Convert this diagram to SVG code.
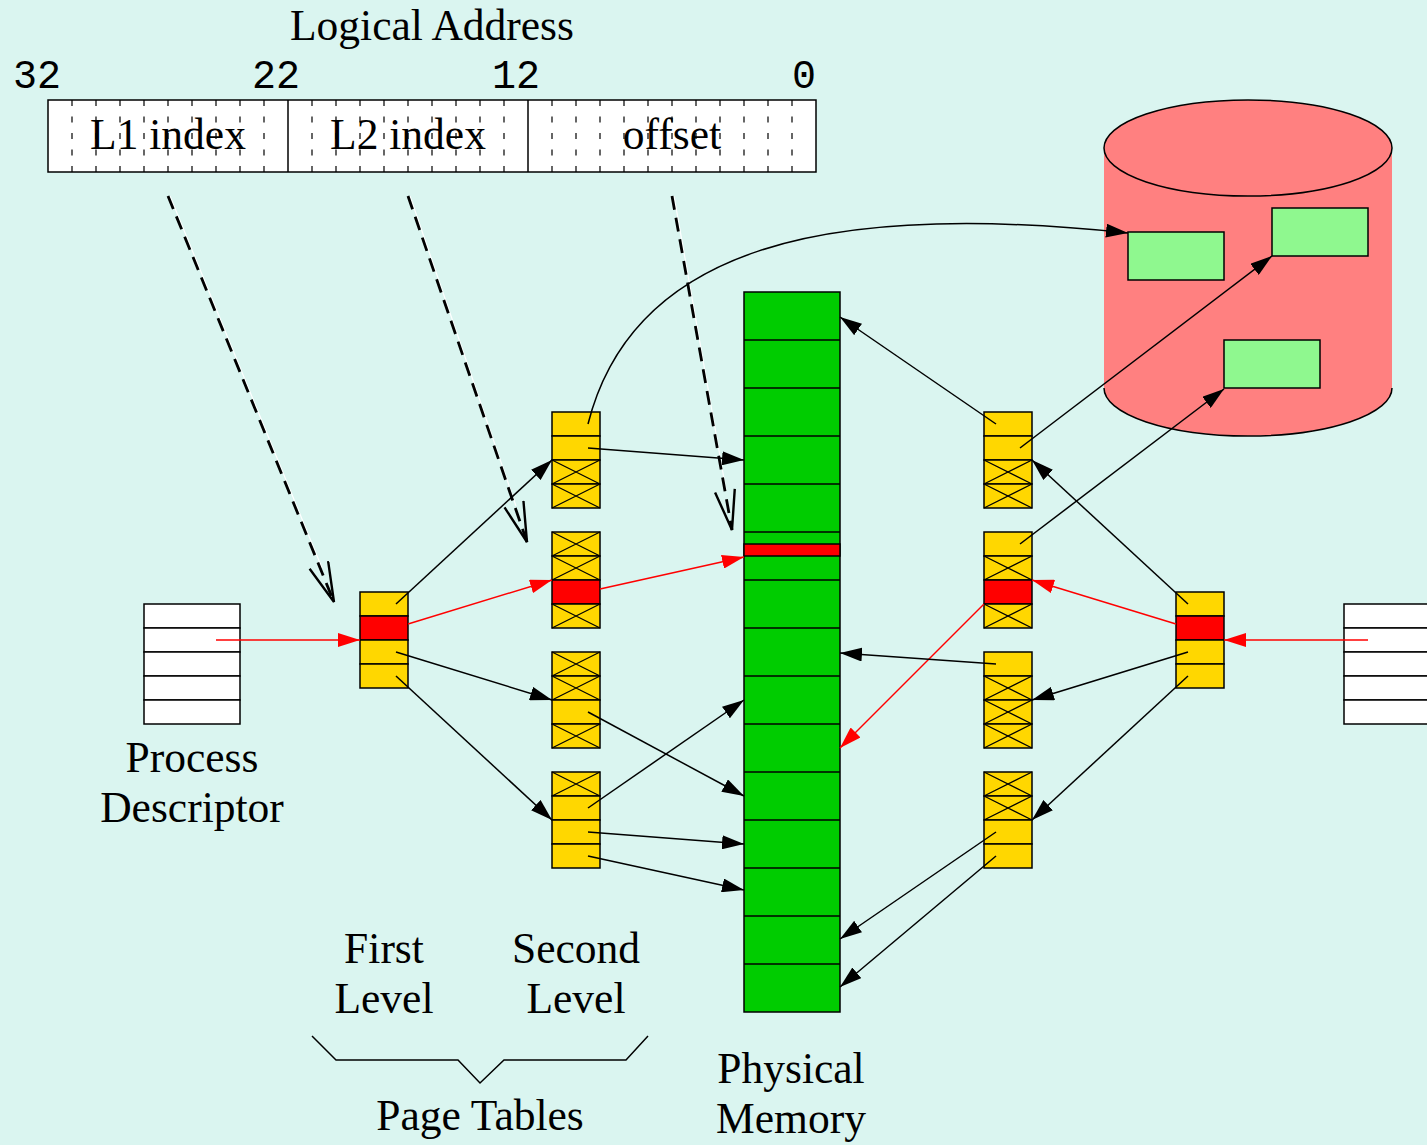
<svg xmlns="http://www.w3.org/2000/svg" width="1427" height="1145" viewBox="0 0 1427 1145">
<defs>
<style>
.t{font-family:"Liberation Serif","Times New Roman",serif;font-size:43.5px;fill:#000;text-anchor:middle}
.m{font-family:"Liberation Mono","Courier New",monospace;font-size:40px;fill:#000;text-anchor:middle}
.y{fill:#ffd700;stroke:#000;stroke-width:1.5}
.r{fill:#ff0000;stroke:#000;stroke-width:1.5}
.w{fill:#fff;stroke:#000;stroke-width:1.5}
.x{stroke:#000;stroke-width:1.2}
.tick{stroke:#000;stroke-width:1.2;stroke-dasharray:6 10.5}
.a{stroke:#000;stroke-width:1.5;fill:none;marker-end:url(#ah)}
.ra{stroke:#ff0000;stroke-width:1.5;fill:none;marker-end:url(#rah)}
.d{stroke:#000;stroke-width:2.8;fill:none;stroke-dasharray:14 8;marker-end:url(#vh)}
.dw{stroke:#fff;stroke-width:1.2;fill:none}
</style>
<marker id="ah" markerUnits="userSpaceOnUse" markerWidth="24" markerHeight="14" refX="22" refY="7" orient="auto"><path d="M0,0 L22,7 L0,14 z" fill="#000"/></marker>
<marker id="rah" markerUnits="userSpaceOnUse" markerWidth="24" markerHeight="14" refX="22" refY="7" orient="auto"><path d="M0,0 L22,7 L0,14 z" fill="#ff0000"/></marker>
<marker id="vh" markerUnits="userSpaceOnUse" markerWidth="44" markerHeight="24" refX="41" refY="11" orient="auto"><path d="M1,1 L41,11 L1,21" fill="none" stroke="#000" stroke-width="2.4" stroke-dasharray="none"/></marker>
</defs>
<rect x="0" y="0" width="1427" height="1145" fill="#daf5f0"/>

<g id="logical-address">
<text class="t" x="432" y="40">Logical Address</text>
<text class="m" x="37" y="88">32</text>
<text class="m" x="276" y="88">22</text>
<text class="m" x="516" y="88">12</text>
<text class="m" x="804" y="88">0</text>
<rect x="48" y="100" width="768" height="72" fill="#fff" stroke="#000" stroke-width="1.5"/>
<g class="tick">
<line x1="72" y1="100" x2="72" y2="172"/><line x1="96" y1="100" x2="96" y2="172"/><line x1="120" y1="100" x2="120" y2="172"/><line x1="144" y1="100" x2="144" y2="172"/><line x1="168" y1="100" x2="168" y2="172"/><line x1="192" y1="100" x2="192" y2="172"/><line x1="216" y1="100" x2="216" y2="172"/><line x1="240" y1="100" x2="240" y2="172"/><line x1="264" y1="100" x2="264" y2="172"/>
<line x1="312" y1="100" x2="312" y2="172"/><line x1="336" y1="100" x2="336" y2="172"/><line x1="360" y1="100" x2="360" y2="172"/><line x1="384" y1="100" x2="384" y2="172"/><line x1="408" y1="100" x2="408" y2="172"/><line x1="432" y1="100" x2="432" y2="172"/><line x1="456" y1="100" x2="456" y2="172"/><line x1="480" y1="100" x2="480" y2="172"/><line x1="504" y1="100" x2="504" y2="172"/>
<line x1="552" y1="100" x2="552" y2="172"/><line x1="576" y1="100" x2="576" y2="172"/><line x1="600" y1="100" x2="600" y2="172"/><line x1="624" y1="100" x2="624" y2="172"/><line x1="648" y1="100" x2="648" y2="172"/><line x1="672" y1="100" x2="672" y2="172"/><line x1="696" y1="100" x2="696" y2="172"/><line x1="720" y1="100" x2="720" y2="172"/><line x1="744" y1="100" x2="744" y2="172"/><line x1="768" y1="100" x2="768" y2="172"/><line x1="792" y1="100" x2="792" y2="172"/>
</g>
<line x1="288" y1="100" x2="288" y2="172" stroke="#000" stroke-width="1.5"/>
<line x1="528" y1="100" x2="528" y2="172" stroke="#000" stroke-width="1.5"/>
<text class="t" x="168" y="149">L1 index</text>
<text class="t" x="408" y="149">L2 index</text>
<text class="t" x="672" y="149">offset</text>
</g>

<g id="disk">
<path d="M1104,148 L1104,388 A144,48 0 0 0 1392,388 L1392,148 Z" fill="#ff8080"/>
<path d="M1104,388 A144,48 0 0 0 1392,388" fill="none" stroke="#000" stroke-width="1.5"/>
<ellipse cx="1248" cy="148" rx="144" ry="48" fill="#ff8080" stroke="#000" stroke-width="1.5"/>
<rect x="1128" y="232" width="96" height="48" fill="#8ff88f" stroke="#000" stroke-width="1.5"/>
<rect x="1272" y="208" width="96" height="48" fill="#8ff88f" stroke="#000" stroke-width="1.5"/>
<rect x="1224" y="340" width="96" height="48" fill="#8ff88f" stroke="#000" stroke-width="1.5"/>
</g>

<g id="process-descriptor-left">
<rect class="w" x="144" y="604" width="96" height="24"/><rect class="w" x="144" y="628" width="96" height="24"/><rect class="w" x="144" y="652" width="96" height="24"/><rect class="w" x="144" y="676" width="96" height="24"/><rect class="w" x="144" y="700" width="96" height="24"/>
<text class="t" x="192" y="772">Process</text>
<text class="t" x="192" y="822">Descriptor</text>
</g>

<g id="process-descriptor-right">
<rect class="w" x="1344" y="604" width="96" height="24"/><rect class="w" x="1344" y="628" width="96" height="24"/><rect class="w" x="1344" y="652" width="96" height="24"/><rect class="w" x="1344" y="676" width="96" height="24"/><rect class="w" x="1344" y="700" width="96" height="24"/>
</g>

<g id="first-level-left">
<rect class="y" x="360" y="592" width="48" height="24"/><rect class="r" x="360" y="616" width="48" height="24"/><rect class="y" x="360" y="640" width="48" height="24"/><rect class="y" x="360" y="664" width="48" height="24"/>
</g>

<g id="second-level-left-1">
<rect class="y" x="552" y="412" width="48" height="24"/><rect class="y" x="552" y="436" width="48" height="24"/>
<rect class="y" x="552" y="460" width="48" height="24"/><path class="x" d="M552,460 L600,484 M552,484 L600,460"/>
<rect class="y" x="552" y="484" width="48" height="24"/><path class="x" d="M552,484 L600,508 M552,508 L600,484"/>
</g>
<g id="second-level-left-2">
<rect class="y" x="552" y="532" width="48" height="24"/><path class="x" d="M552,532 L600,556 M552,556 L600,532"/>
<rect class="y" x="552" y="556" width="48" height="24"/><path class="x" d="M552,556 L600,580 M552,580 L600,556"/>
<rect class="r" x="552" y="580" width="48" height="24"/>
<rect class="y" x="552" y="604" width="48" height="24"/><path class="x" d="M552,604 L600,628 M552,628 L600,604"/>
</g>
<g id="second-level-left-3">
<rect class="y" x="552" y="652" width="48" height="24"/><path class="x" d="M552,652 L600,676 M552,676 L600,652"/>
<rect class="y" x="552" y="676" width="48" height="24"/><path class="x" d="M552,676 L600,700 M552,700 L600,676"/>
<rect class="y" x="552" y="700" width="48" height="24"/>
<rect class="y" x="552" y="724" width="48" height="24"/><path class="x" d="M552,724 L600,748 M552,748 L600,724"/>
</g>
<g id="second-level-left-4">
<rect class="y" x="552" y="772" width="48" height="24"/><path class="x" d="M552,772 L600,796 M552,796 L600,772"/>
<rect class="y" x="552" y="796" width="48" height="24"/><rect class="y" x="552" y="820" width="48" height="24"/><rect class="y" x="552" y="844" width="48" height="24"/>
</g>

<g id="physical-memory">
<rect x="744" y="292" width="96" height="720" fill="#00cc00" stroke="#000" stroke-width="1.5"/>
<path d="M744,340H840M744,388H840M744,436H840M744,484H840M744,532H840M744,580H840M744,628H840M744,676H840M744,724H840M744,772H840M744,820H840M744,868H840M744,916H840M744,964H840" stroke="#000" stroke-width="1.5"/>
<rect class="r" x="744" y="544" width="96" height="12"/>
<text class="t" x="791" y="1083">Physical</text>
<text class="t" x="791" y="1133">Memory</text>
</g>

<g id="second-level-right-1">
<rect class="y" x="984" y="412" width="48" height="24"/><rect class="y" x="984" y="436" width="48" height="24"/>
<rect class="y" x="984" y="460" width="48" height="24"/><path class="x" d="M984,460 L1032,484 M984,484 L1032,460"/>
<rect class="y" x="984" y="484" width="48" height="24"/><path class="x" d="M984,484 L1032,508 M984,508 L1032,484"/>
</g>
<g id="second-level-right-2">
<rect class="y" x="984" y="532" width="48" height="24"/>
<rect class="y" x="984" y="556" width="48" height="24"/><path class="x" d="M984,556 L1032,580 M984,580 L1032,556"/>
<rect class="r" x="984" y="580" width="48" height="24"/>
<rect class="y" x="984" y="604" width="48" height="24"/><path class="x" d="M984,604 L1032,628 M984,628 L1032,604"/>
</g>
<g id="second-level-right-3">
<rect class="y" x="984" y="652" width="48" height="24"/>
<rect class="y" x="984" y="676" width="48" height="24"/><path class="x" d="M984,676 L1032,700 M984,700 L1032,676"/>
<rect class="y" x="984" y="700" width="48" height="24"/><path class="x" d="M984,700 L1032,724 M984,724 L1032,700"/>
<rect class="y" x="984" y="724" width="48" height="24"/><path class="x" d="M984,724 L1032,748 M984,748 L1032,724"/>
</g>
<g id="second-level-right-4">
<rect class="y" x="984" y="772" width="48" height="24"/><path class="x" d="M984,772 L1032,796 M984,796 L1032,772"/>
<rect class="y" x="984" y="796" width="48" height="24"/><path class="x" d="M984,796 L1032,820 M984,820 L1032,796"/>
<rect class="y" x="984" y="820" width="48" height="24"/><rect class="y" x="984" y="844" width="48" height="24"/>
</g>

<g id="first-level-right">
<rect class="y" x="1176" y="592" width="48" height="24"/><rect class="r" x="1176" y="616" width="48" height="24"/><rect class="y" x="1176" y="640" width="48" height="24"/><rect class="y" x="1176" y="664" width="48" height="24"/>
</g>

<g id="page-tables-label">
<text class="t" x="384" y="963">First</text>
<text class="t" x="384" y="1013">Level</text>
<text class="t" x="576" y="963">Second</text>
<text class="t" x="576" y="1013">Level</text>
<path d="M312,1036 L336,1060 L458,1060 L480,1083 L504,1060 L626,1060 L648,1036" fill="none" stroke="#000" stroke-width="1.5"/>
<text class="t" x="480" y="1130">Page Tables</text>
</g>

<g id="connectors">
<line class="dw" x1="170" y1="196" x2="322" y2="568"/>
<line class="dw" x1="410" y1="196" x2="516" y2="506"/>
<line class="dw" x1="674" y1="196" x2="726" y2="490"/>
<line class="d" x1="168" y1="196" x2="334" y2="602"/>
<line class="d" x1="408" y1="196" x2="527" y2="542"/>
<line class="d" x1="672" y1="196" x2="732" y2="530"/>

<line class="ra" x1="216" y1="640" x2="360" y2="640"/>
<line class="ra" x1="408" y1="624" x2="552" y2="580"/>
<line class="ra" x1="600" y1="589" x2="744" y2="557"/>
<line class="ra" x1="1368" y1="640" x2="1224" y2="640"/>
<line class="ra" x1="1176" y1="624" x2="1032" y2="580"/>
<line class="ra" x1="984" y1="604" x2="840" y2="748"/>

<line class="a" x1="396" y1="604" x2="552" y2="460"/>
<line class="a" x1="396" y1="652" x2="552" y2="700"/>
<line class="a" x1="396" y1="676" x2="552" y2="820"/>
<path class="a" d="M588,424 C632,250 820,200 1128,233"/>
<line class="a" x1="588" y1="448" x2="744" y2="460"/>
<line class="a" x1="588" y1="712" x2="744" y2="796"/>
<line class="a" x1="588" y1="808" x2="744" y2="700"/>
<line class="a" x1="588" y1="832" x2="744" y2="844"/>
<line class="a" x1="588" y1="856" x2="744" y2="890"/>

<line class="a" x1="996" y1="424" x2="840" y2="317"/>
<line class="a" x1="1020" y1="448" x2="1272" y2="256"/>
<line class="a" x1="1020" y1="544" x2="1224" y2="389"/>
<line class="a" x1="1188" y1="604" x2="1032" y2="460"/>
<line class="a" x1="1188" y1="652" x2="1032" y2="700"/>
<line class="a" x1="1188" y1="676" x2="1032" y2="820"/>
<line class="a" x1="996" y1="664" x2="840" y2="653"/>
<line class="a" x1="996" y1="832" x2="840" y2="939"/>
<line class="a" x1="996" y1="856" x2="840" y2="987"/>
</g>
</svg>
